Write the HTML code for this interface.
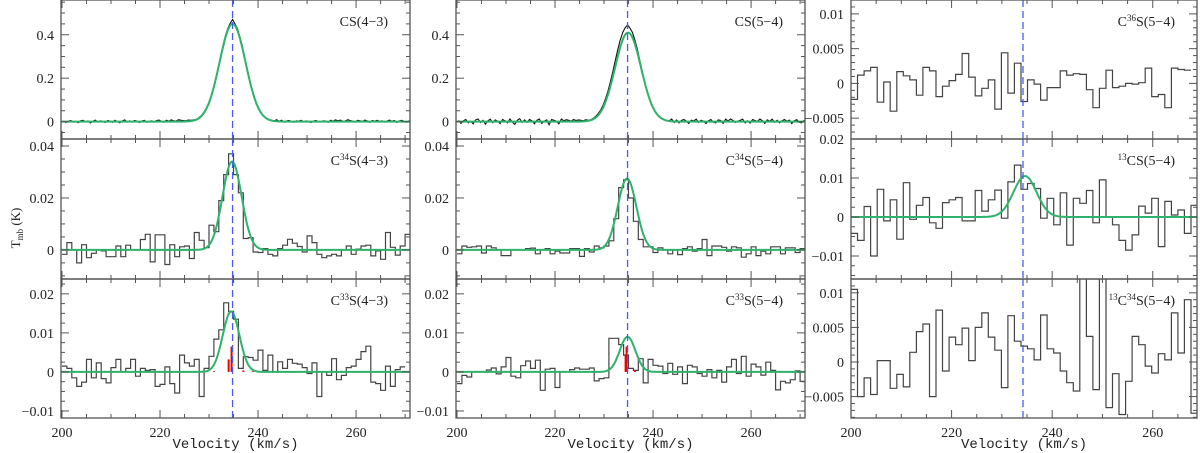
<!DOCTYPE html>
<html><head><meta charset="utf-8">
<style>
html,body{margin:0;padding:0;background:#fff;}
svg{display:block;}
text{font-family:"Liberation Serif",serif;fill:#222;}
.mono{font-family:"Liberation Mono",monospace;}
</style></head>
<body>
<svg id="chart" width="1200" height="453" viewBox="0 0 1200 453" xmlns="http://www.w3.org/2000/svg">
<text transform="translate(20,228) rotate(-90)" text-anchor="middle" font-size="13">T<tspan font-size="9" dy="3">mb</tspan><tspan dy="-3"> (K)</tspan></text>
</svg>
<script>
// ---------- data ----------
const vlsrCol = [234.8, 234.8, 234.2];
const panelNames = ["CS(4-3)","CS(5-4)","C36S(5-4)","C34S(4-3)","C34S(5-4)","13CS(5-4)","C33S(4-3)","C33S(5-4)","13C34S(5-4)"];
const cs43 = [0.003,-0.004,0.002,0.005,-0.002,0.001,-0.005,0.004,0.006,-0.001,0.003,-0.006,0.002,0.007,-0.002,0.004,0.001,-0.004,0.005,0.002,-0.003,0.006,0,-0.005,0.003,0.008,-0.002,0.004,-0.001,0.005,0.002,-0.004,0.003,0.006,-0.003,0.001,0.004,-0.002,0.005,0.007,0.001,-0.003,0.006,0.002,0.008,0.004,0.003,0.009,0.006,0.005,0.004,0.007,0.006,
0.008,0.01,0.016,0.025,0.038,0.056,0.08,0.11,0.148,0.192,0.243,0.295,0.347,0.392,0.428,0.452,0.47,0.45,0.428,0.39,0.347,0.294,0.242,0.19,0.147,0.108,0.078,0.054,0.036,0.023,0.014,0.008,0.006,
0.004,0.009,0.002,0.006,-0.002,0.003,0.005,0.001,-0.003,0.004,0.002,0.006,-0.001,0.003,0.001,-0.004,0.002,0.005,0,-0.002,0.004,0.003,-0.003,0.006,0.002,0.008,0.004,0.007,0.001,0.003,0.009,0.005,0.002,-0.002,0.006,0.004,0.001,0.007,0.003,-0.003,0.005,0.002,0.006,0.001,0.004,-0.002,0.003,0.007,0.002,0.005,-0.004,0.003,0.006,0.001,-0.003,0.004,0.002];
const cs54 = [0.006,-0.008,0.004,0.01,-0.006,0.002,-0.01,0.008,0.012,-0.004,0.006,-0.012,0.004,0.011,-0.005,0.008,0.002,-0.009,0.01,0.004,-0.006,0.012,-0.002,-0.013,0.006,0.014,-0.004,0.008,-0.003,0.01,0.004,-0.01,0.006,0.012,-0.008,0.002,0.008,-0.014,0.01,0.006,0.002,-0.01,0.012,0.004,0.009,0.006,0.002,0.01,0.005,0.008,0.006,0.004,0.009,
0.006,0.009,0.015,0.024,0.036,0.053,0.075,0.105,0.141,0.184,0.232,0.282,0.332,0.375,0.41,0.432,0.445,0.43,0.41,0.375,0.332,0.282,0.232,0.184,0.141,0.104,0.075,0.052,0.034,0.022,0.013,0.008,0.005,
0.004,0.012,-0.004,0.008,-0.006,0.006,0.01,0.002,-0.008,0.007,0.003,0.011,-0.004,0.006,0.002,-0.009,0.004,0.01,-0.002,-0.006,0.008,0.005,-0.008,0.011,0.003,0.012,0.006,-0.004,0.002,0.006,0.011,-0.006,0.004,-0.007,0.01,0.005,0.001,0.012,0.004,-0.008,0.008,0.002,0.011,-0.003,0.006,-0.006,0.004,0.01,0.002,0.007,-0.009,0.004,0.009,-0.002,-0.006,0.005,-0.003];
const c34s43 = [-0.0017,0.0028,0,-0.005,0.002,-0.003,-0.0013,0,-0.0004,-0.0026,-0.0026,0.0015,-0.0026,0.0018,0,0,0.004,0.006,-0.0046,0.0058,0.0058,-0.0056,0.002,-0.0026,0.0012,0.0015,-0.0033,0.0067,0.0037,0.0009,0.0095,0.007,0.019,0.029,0.037,0.029,0.022,0.0044,0.0047,-0.0008,-0.001,0.0005,-0.0017,-0.0023,0.0005,0.0018,0.0041,0.0026,0.0013,-0.0008,0.0054,0.0028,-0.0017,-0.003,-0.0023,-0.0017,-0.0023,0,0.0015,-0.0017,0.0003,0.0015,0.0018,-0.0023,-0.0004,-0.0036,0.0067,0.001,-0.002,0.0015,0.006];
const c34s54 = [-0.0015,0.0015,0.001,0.0012,0.0015,-0.0012,0.0015,0.0008,0,-0.0022,-0.0022,0,0,0,0.0005,0.0007,-0.0015,0,0.0005,-0.0015,-0.0005,-0.0012,-0.0012,0.0005,0.0005,-0.0025,0.0005,-0.0008,0.0015,0.0008,0.0015,0.0035,0.012,0.024,0.027,0.02,0.011,0.004,0.0012,0.0012,-0.001,0.0008,0,-0.0015,0,-0.0018,0.0005,0.0012,-0.0005,0.0005,0.004,-0.0022,0.0015,0.0015,0.001,-0.0005,0.0012,0.0008,-0.0028,-0.0015,0.0012,-0.0022,-0.0005,-0.0015,0.0012,0.0012,-0.0015,0.0008,0.0008,-0.001,0.0005];
const c33s43 = [0.0015,0.0009,-0.0015,-0.0037,-0.0026,0.0032,-0.0015,0.0023,-0.0017,-0.0028,0.0011,0.0032,0,0.0009,0.0032,-0.0011,0.0009,0.0004,0.0006,-0.0037,-0.0032,0.0013,-0.003,-0.0054,0.0043,0.0023,0.0015,0.0032,-0.0063,0.0009,0.004,0.0084,0.0108,0.0177,0.0155,0.0135,0.0009,0.0039,0.0037,0.003,0.0056,0.0004,0.0043,0,0.0026,0.0009,0.0032,0.0022,0.002,0.0011,-0.0004,0.0023,-0.0063,0,-0.0009,0.0034,-0.002,-0.0009,0.0011,0.0015,0.0032,0.0052,0.0066,-0.0026,-0.003,-0.0047,0.0015,-0.0037,0.0006,0.0013];
const c33s54 = [-0.003,-0.0009,-0.0013,0,0,0,0.0005,0.001,-0.0005,0.0013,0.0037,-0.0011,-0.0015,0.0016,0.0028,0.0009,0.003,-0.0047,0.0007,0.0009,-0.004,0,0,0.0006,0.001,0.0007,0.0007,0.001,-0.0023,-0.0017,-0.0015,0.0086,0.0086,0.007,0.0043,0.0009,0.0004,0.0034,-0.0028,0.0032,0.0017,0.0015,-0.0004,0.0022,-0.0006,0.0013,-0.003,0.0017,0.0013,-0.0004,-0.0011,0.0006,-0.0015,0.0004,-0.0026,0.0013,0.0032,-0.0004,0.004,-0.0011,0.002,0.0013,-0.0008,0.0025,0.0004,-0.0046,-0.0024,-0.0028,-0.002,0.0003,-0.0024];
const c36s54 = [-0.0023,0.0012,0.0018,0.0023,-0.0027,0.0002,-0.004,0.0017,0.0011,0.0005,-0.0017,0.0023,0.0018,-0.0019,-0.0004,0.0004,0.0013,0.0043,0.0009,-0.0018,-0.0007,0.0005,-0.0037,0.0044,-0.0014,0.0029,-0.0026,0.0005,-0.0001,-0.0024,-0.0006,-0.0006,0.0018,0.0012,0.0014,0.0013,-0.0009,-0.0035,-0.0007,0.0019,-0.0006,-0.0004,0,-0.0001,0.0001,0.0022,-0.0019,-0.0016,-0.0035,0.0022,0.002,0.0019];
const cs13_54 = [-0.0042,-0.006,0.0027,-0.01,0.0071,-0.001,0.0044,-0.0057,0.0088,-0.0006,0.003,0.005,-0.0015,-0.0029,0.0037,0.0044,0.005,-0.001,-0.001,0.0068,0.0015,0.0044,0.0069,-0.0003,0.009,0.0133,0.0071,0.0086,0.0073,-0.0003,0.0048,-0.002,0.0062,-0.0072,0.0048,0.0035,0.0068,-0.0015,0.0095,0,-0.002,-0.006,-0.0085,-0.0046,0.0028,0.001,0.0048,-0.0076,0.004,0.0005,0.0018,-0.0042,0.003];
const c13c34s54 = [0.0105,-0.005,-0.0023,-0.0047,0.0002,0.0002,-0.0038,-0.0018,-0.0036,0.0014,0.0044,0.0055,-0.005,0.0075,-0.0013,0.0036,0.0025,0.0049,0.0002,0.005,0.0071,0.0036,0.0017,-0.0037,0.0067,0.003,0.0023,0.0019,0.0003,0.0068,0.0019,0.0013,-0.0013,-0.003,-0.0042,0.0124,0.0037,-0.004,0.0124,-0.0066,-0.0017,-0.0076,-0.0028,0.0037,0.0025,-0.0006,-0.0016,0.0012,0.0003,0.0071,0.0013,0.009,-0.0074,-0.0029,-0.0029];
const fitAmp    = [0.45, 0.41, null, 0.034, 0.0275, 0.0105, 0.0155, 0.009, null];
const fitCenter = [234.8, 234.9, null, 234.7, 234.7, 234.6, 234.5, 234.8, null];
const fitSigma  = [2.65, 2.65, null, 1.95, 1.9, 2.3, 1.7, 1.6, null];
const hfsVel43 = [234.0, 234.6, 231.0, 237.0, 239.0];
const hfsAmp43 = [0.0032, 0.0065, 0.0002, 0.0004, 0.0002];
const hfsVel54 = [234.4, 234.6, 236.3];
const hfsAmp54 = [0.0045, 0.0065, 0.0005];

// ---------- layout ----------
const NS="http://www.w3.org/2000/svg";
const svg=document.getElementById('chart');
function el(tag,attrs,parent){const e=document.createElementNS(NS,tag);for(const k in attrs)e.setAttribute(k,attrs[k]);(parent||svg).appendChild(e);return e;}
const colL=[61,456,851], colR=[410,805,1197];
const rowT=[0,139,279], rowB=[139,279,418];
const xr=[[199.8,271],[199.8,271],[200,268.8]];
const yr=[
 [[-0.08,0.56],[-0.08,0.56],[-0.008,0.012]],
 [[-0.0112,0.0427],[-0.0112,0.0427],[-0.0159,0.02]],
 [[-0.0118,0.0238],[-0.0118,0.0238],[-0.0081,0.012]]];
const yMaj=[[0.2,0.2,0.005],[0.02,0.02,0.01],[0.01,0.01,0.005]];
const yMin=[[0.05,0.05,0.001],[0.005,0.005,0.0025],[0.0025,0.0025,0.001]];
const yLabels=[
 [["0","0.2","0.4"],["0","0.2","0.4"],["−0.005","0","0.005","0.01"]],
 [["0","0.02","0.04"],["0","0.02","0.04"],["−0.01","0","0.01","0.02"]],
 [["−0.01","0","0.01","0.02"],["−0.01","0","0.01","0.02"],["−0.005","0","0.005","0.01"]]];
const titles=[
 [["CS(4−3)"],["CS(5−4)"],["C","36","S(5−4)"]],
 [["C","34","S(4−3)"],["C","34","S(5−4)"],["","13","CS(5−4)"]],
 [["C","33","S(4−3)"],["C","33","S(5−4)"],["","13","C","34","S(5−4)"]]];
const specs=[[cs43,cs54,c36s54],[c34s43,c34s54,cs13_54],[c33s43,c33s54,c13c34s54]];
const specStart=[[200.3,200.3,200],[200,200,200],[200,200,200]];
const chanW=[[0.5,0.5,1.3],[1.0,1.0,1.3],[1.0,1.0,1.3]];
const isLine=[[true,true,false],[false,false,false],[false,false,false]];

for(let r=0;r<3;r++){for(let c=0;c<3;c++){
  const L=colL[c],R=colR[c],T=rowT[r],B=rowB[r];
  const X=v=>L+(v-xr[c][0])/(xr[c][1]-xr[c][0])*(R-L);
  const Y=t=>B-(t-yr[r][c][0])/(yr[r][c][1]-yr[r][c][0])*(B-T);
  const g=el('g',{});
  
  
  const cp='cp'+r+c;
  const cl=el('clipPath',{id:cp},g);el('rect',{x:L,y:T,width:R-L,height:B-T},cl);
  const d=specs[r][c], w=chanW[r][c], s0=specStart[r][c];
  let p='';
  if(isLine[r][c]){d.forEach((t,i)=>{p+=(i?'L':'M')+X(s0+i*w).toFixed(1)+','+Y(t).toFixed(1);});}
  else{d.forEach((t,i)=>{const v0=s0+i*w,v1=v0+w;p+=(i?'L':'M')+X(v0).toFixed(1)+','+Y(t).toFixed(1)+'L'+X(v1).toFixed(1)+','+Y(t).toFixed(1);});}
  const sp=el('path',{d:p,fill:'none',stroke:isLine[r][c]?'#111':'#444','stroke-width':isLine[r][c]?1.1:1.2,'clip-path':'url(#'+cp+')'},g);
  
  
  if(r===2&&c<2){const hv=c===0?hfsVel43:hfsVel54, ha=c===0?hfsAmp43:hfsAmp54;
    hv.forEach((v,i)=>{const s=el('line',{x1:X(v),x2:X(v),y1:Y(0),y2:Y(ha[i]),stroke:'#e00','stroke-width':2},g);
      
      });}
  const k=r*3+c;
  if(fitAmp[k]!==null){let fp='';for(let i=0;i<=400;i++){const v=xr[c][0]+i*(xr[c][1]-xr[c][0])/400;const t=fitAmp[k]*Math.exp(-Math.pow(v-fitCenter[k],2)/(2*fitSigma[k]*fitSigma[k]));fp+=(i?'L':'M')+X(v).toFixed(1)+','+Y(t).toFixed(1);}
    const f=el('path',{d:fp,fill:'none',stroke:'#2db36a','stroke-width':2,'clip-path':'url(#'+cp+')'},g);
    
    }
  const vl=el('line',{x1:X(vlsrCol[c]),x2:X(vlsrCol[c]),y1:T,y2:B,stroke:'#4a5cf0','stroke-width':1.3,'stroke-dasharray':'7,4'},g);
  
  
  el('rect',{x:L,y:T,width:R-L,height:B-T,fill:'none',stroke:'#555','stroke-width':1.3},g);
  for(let v=200;v<=xr[c][1];v+=5){if(v<xr[c][0])continue;const maj=v%20===0,len=maj?8:4,x=X(v);
    el('line',{x1:x,x2:x,y1:B,y2:B-len,stroke:'#555','stroke-width':1},g);
    el('line',{x1:x,x2:x,y1:T,y2:T+len,stroke:'#555','stroke-width':1},g);
    if(r===2&&maj){const tl=el('text',{x:x,y:437,'text-anchor':'middle','font-size':14},g);tl.textContent=v;
      
      }}
  const mn=yMin[r][c],mj=yMaj[r][c];
  const i0=Math.ceil(yr[r][c][0]/mn-1e-6),i1=Math.floor(yr[r][c][1]/mn+1e-6);
  for(let i=i0;i<=i1;i++){const t=i*mn,y=Y(t);const maj=Math.abs(t/mj-Math.round(t/mj))<1e-6,len=maj?8:4;
    el('line',{x1:L,x2:L+len,y1:y,y2:y,stroke:'#555','stroke-width':1},g);
    el('line',{x1:R,x2:R-len,y1:y,y2:y,stroke:'#555','stroke-width':1},g);}
  yLabels[r][c].forEach(s=>{const t=parseFloat(s.replace('−','-'));const y=Y(t);
    const tl=el('text',{x:L-7,y:y+5,'text-anchor':'end','font-size':14},g);tl.textContent=s;
    
    });
  const tt=el('text',{x:R-22,y:T+26,'text-anchor':'end','font-size':14},g);
  
  
  titles[r][c].forEach((s,j)=>{if(s==='')return;const ts=el('tspan',{},tt);ts.textContent=s;
    if(j%2===1){ts.setAttribute('font-size','9');ts.setAttribute('dy','-5');}else if(j>0){ts.setAttribute('dy','5');}});
}
  const vt=el('text',{x:(colL[r]+colR[r])/2,y:448,'text-anchor':'middle','font-size':14,class:'mono'});
  vt.textContent='Velocity (km/s)';
  
  
}
</script>
</body></html>
